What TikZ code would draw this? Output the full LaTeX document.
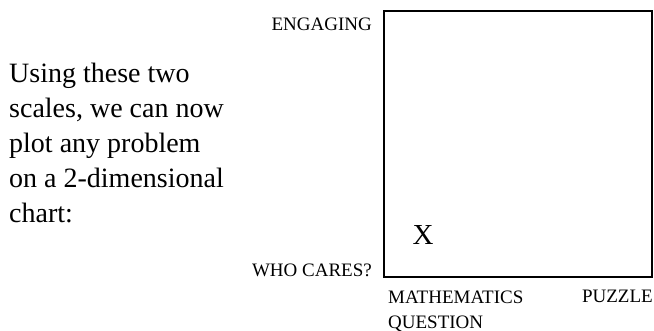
\documentclass[tikz,border=0pt]{standalone}
\usepackage{fontspec}
\setmainfont{Liberation Serif}
\begin{document}
\begin{tikzpicture}[x=1pt,y=1pt,
  lbl/.style={inner sep=0pt, font=\fontsize{19}{25}\selectfont},
  body/.style={inner sep=0pt, align=left, font=\fontsize{28}{35}\selectfont},
  chartbox/.style={draw=black, line width=2pt}]
\useasboundingbox (0,0) rectangle (654,-331);
\node[body, anchor=north west] (txt) at (9,-62.5) {Using these two\\scales, we can now\\plot any problem\\on a 2-dimensional\\chart:};
\draw[chartbox] (384,-11) rectangle (652,-277);
\node[lbl, anchor=base east] (eng) at (372,-30.5) {ENGAGING};
\node[lbl, anchor=base east] (who) at (372,-277) {WHO CARES?};
\node[lbl, anchor=north west, align=left] (math) at (388,-290.6) {MATHEMATICS\\QUESTION};
\node[lbl, anchor=base east] (puz) at (653,-303) {PUZZLE};
\node[inner sep=0pt, anchor=base, font=\fontsize{29}{30}\selectfont] (x) at (423,-245) {X};
\end{tikzpicture}
\end{document}
